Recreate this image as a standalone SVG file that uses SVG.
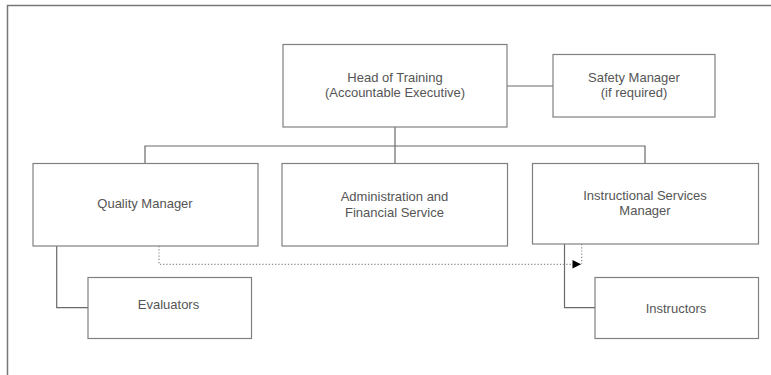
<svg xmlns="http://www.w3.org/2000/svg" width="771" height="375" viewBox="0 0 771 375">
<style>
.box{fill:#fff;stroke:#808080;stroke-width:1.2}
.t{font-family:"Liberation Sans",Arial,sans-serif;font-size:13px;fill:#555;text-anchor:middle}
.ln{fill:none;stroke:#6a6a6a;stroke-width:1.2}
.dot{fill:none;stroke:#888;stroke-width:1.2;stroke-dasharray:1.2 2}
</style>
<defs>
<marker id="arr" viewBox="0 0 10 10" refX="10" refY="5" markerWidth="9" markerHeight="8.5" markerUnits="userSpaceOnUse" orient="auto">
<path d="M0,0 L10,5 L0,10 Z" fill="#000"/>
</marker>
</defs>
<rect width="771" height="375" fill="#fff"/>
<path d="M7.5,375 V5.5 H771" fill="none" stroke="#777" stroke-width="1.5"/>
<g id="connectors">
<path class="ln" d="M507,86 H553"/>
<path class="ln" d="M395,127 V146 M145,163 V146 H645 V163 M395,146 V163"/>
<path class="ln" d="M56.7,246 V307.7 H88"/>
<path class="ln" d="M564.5,244 V307.7 H595"/>
<path class="dot" d="M159,246 V264.3 H581"/>
<path d="M572,264.3 H581" stroke="none" marker-end="url(#arr)"/>
<path class="dot" d="M581.7,244 V264"/>
</g>
<g id="head">
<rect class="box" x="283" y="44.5" width="224" height="82.5"/>
<text class="t" x="395" y="81.5">Head of Training</text>
<text class="t" x="395" y="97">(Accountable Executive)</text>
</g>
<g id="safety">
<rect class="box" x="553" y="54.5" width="162" height="62.5"/>
<text class="t" x="634" y="81.5">Safety Manager</text>
<text class="t" x="634" y="97">(if required)</text>
</g>
<g id="quality">
<rect class="box" x="33" y="163.5" width="225" height="82.5"/>
<text class="t" x="145" y="207.5">Quality Manager</text>
</g>
<g id="admin">
<rect class="box" x="282" y="163.5" width="225.5" height="82.5"/>
<text class="t" x="394.5" y="201">Administration and</text>
<text class="t" x="394.5" y="216.5">Financial Service</text>
</g>
<g id="ism">
<rect class="box" x="532.5" y="163.5" width="226" height="80.5"/>
<text class="t" x="645" y="199.5">Instructional Services</text>
<text class="t" x="645" y="215">Manager</text>
</g>
<g id="evaluators">
<rect class="box" x="88" y="277.5" width="163.5" height="61"/>
<text class="t" x="168.5" y="308.5">Evaluators</text>
</g>
<g id="instructors">
<rect class="box" x="595" y="277.5" width="163.5" height="61"/>
<text class="t" x="676" y="312.5">Instructors</text>
</g>
</svg>
